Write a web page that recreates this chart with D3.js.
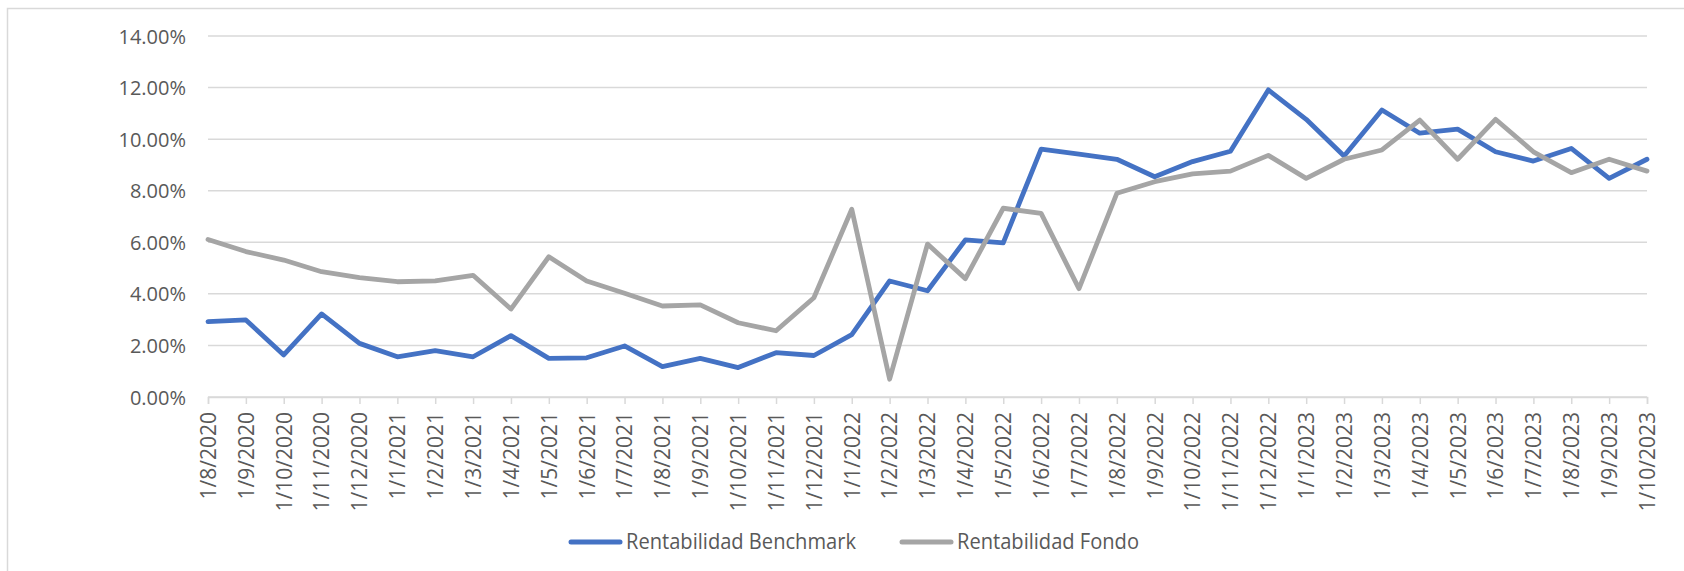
<!DOCTYPE html>
<html>
<head>
<meta charset="utf-8">
<script src="https://cdn.jsdelivr.net/npm/d3@7"></script>
<style>
  body { margin: 0; background: #fff; }
  svg text { font-family: "Open Sans", "Noto Sans", sans-serif; fill: #595959; }
</style>
</head>
<body>
<div id="chart"></div>
<script>
// fechas del eje X (mensual)
const fechas = [
  "1/8/2020", "1/9/2020", "1/10/2020", "1/11/2020", "1/12/2020",
  "1/1/2021", "1/2/2021", "1/3/2021", "1/4/2021", "1/5/2021", "1/6/2021",
  "1/7/2021", "1/8/2021", "1/9/2021", "1/10/2021", "1/11/2021", "1/12/2021",
  "1/1/2022", "1/2/2022", "1/3/2022", "1/4/2022", "1/5/2022", "1/6/2022",
  "1/7/2022", "1/8/2022", "1/9/2022", "1/10/2022", "1/11/2022", "1/12/2022",
  "1/1/2023", "1/2/2023", "1/3/2023", "1/4/2023", "1/5/2023", "1/6/2023",
  "1/7/2023", "1/8/2023", "1/9/2023", "1/10/2023"
];

// rentabilidad en %
const benchmark = [
  2.92, 2.99, 1.63, 3.22, 2.08,
  1.56, 1.80, 1.56, 2.38, 1.50, 1.52,
  1.98, 1.18, 1.50, 1.14, 1.72, 1.61,
  2.42, 4.50, 4.12, 6.09, 5.98, 9.61,
  9.42, 9.22, 8.54, 9.13, 9.53, 11.91,
  10.77, 9.35, 11.13, 10.23, 10.39, 9.51,
  9.15, 9.64, 8.48, 9.22
];
const fondo = [
  6.11, 5.64, 5.31, 4.86, 4.63,
  4.47, 4.50, 4.72, 3.41, 5.44, 4.50,
  4.02, 3.53, 3.57, 2.88, 2.57, 3.85,
  7.28, 0.69, 5.93, 4.59, 7.32, 7.12,
  4.20, 7.90, 8.35, 8.65, 8.76, 9.37,
  8.48, 9.22, 9.58, 10.74, 9.22, 10.77,
  9.51, 8.70, 9.22, 8.76
];
const yTicks = [0, 2, 4, 6, 8, 10, 12, 14];

const series = [
  { name: "Rentabilidad Benchmark", values: benchmark, color: "#4472C4" },
  { name: "Rentabilidad Fondo", values: fondo, color: "#A5A5A5" }
];

const W = 1684, H = 571;
const svg = d3.select("#chart").append("svg")
  .attr("width", W).attr("height", H);

// marco del gráfico
svg.append("rect")
  .attr("x", 7.5).attr("y", 8.5)
  .attr("width", W + 20).attr("height", H + 20)
  .attr("fill", "none").attr("stroke", "#D9D9D9").attr("stroke-width", 1.5);

const x = d3.scalePoint().domain(fechas).range([208, 1647]);
const y = d3.scaleLinear().domain([0, 14]).range([397, 36]);

// grid horizontal
svg.append("g")
  .selectAll("line")
  .data(yTicks)
  .join("line")
  .attr("x1", 208).attr("x2", 1647)
  .attr("y1", d => y(d)).attr("y2", d => y(d))
  .attr("stroke", "#D9D9D9").attr("stroke-width", 1.5);

// eje Y
const gy = svg.append("g")
  .attr("transform", "translate(186,0)")
  .call(d3.axisLeft(y).tickValues(yTicks).tickSize(0).tickPadding(0)
    .tickFormat(d => d.toFixed(2) + "%"));
gy.select(".domain").remove();
gy.attr("font-size", null).attr("font-family", null);
gy.selectAll("text")
  .attr("font-size", 20)
  .attr("dy", "0.35em");

// eje X
const gx = svg.append("g")
  .attr("transform", `translate(0,${y(0)})`)
  .call(d3.axisBottom(x).tickSize(7).tickPadding(0));
gx.attr("font-size", null).attr("font-family", null);
gx.select(".domain").attr("stroke", "#D9D9D9").attr("stroke-width", 1.5);
gx.selectAll(".tick line").attr("stroke", "#D9D9D9").attr("stroke-width", 1.5);
gx.selectAll("text")
  .attr("font-size", 21)
  .attr("transform", "rotate(-90)")
  .attr("text-anchor", "end")
  .attr("x", -15)
  .attr("y", 0)
  .attr("dy", "0.35em");

// líneas
const line = d3.line()
  .x((d, i) => x(fechas[i]))
  .y(d => y(d));

series.forEach(s => {
  svg.append("path")
    .datum(s.values)
    .attr("fill", "none")
    .attr("stroke", s.color)
    .attr("stroke-width", 4.8)
    .attr("stroke-linejoin", "round")
    .attr("stroke-linecap", "round")
    .attr("d", line);
});

// leyenda
const legX = [569, 900];
const legW = [230, 182];
const leg = svg.append("g").attr("transform", "translate(0,542)");
series.forEach((s, i) => {
  const g = leg.append("g").attr("transform", `translate(${legX[i]},0)`);
  g.append("line")
    .attr("x1", 2).attr("x2", 51)
    .attr("stroke", s.color).attr("stroke-width", 5)
    .attr("stroke-linecap", "round");
  g.append("text")
    .attr("x", 57).attr("dy", "0.35em")
    .attr("font-size", 21)
    .attr("textLength", legW[i])
    .attr("lengthAdjust", "spacingAndGlyphs")
    .text(s.name);
});
</script>
</body>
</html>
